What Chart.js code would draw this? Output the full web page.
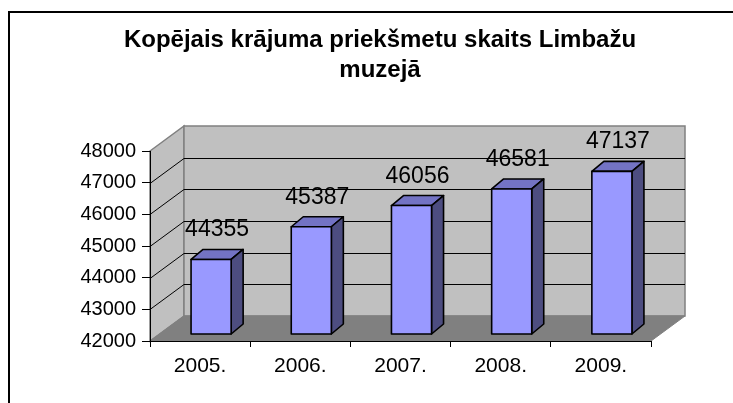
<!DOCTYPE html>
<html>
<head>
<meta charset="utf-8">
<title>Limbažu muzejs</title>
<script src="https://cdn.jsdelivr.net/npm/chart.js@4.4.1/dist/chart.umd.min.js"></script>
<style>
  body { margin: 0; background: #fff; }
  canvas { display: block; }
</style>
</head>
<body>
<canvas id="myChart" width="733" height="403"></canvas>
<script>
let years = ['2005.', '2006.', '2007.', '2008.', '2009.'];
let itemCounts = [44355, 45387, 46056, 46581, 47137];
let yTicks = [42000, 43000, 44000, 45000, 46000, 47000, 48000];
let titleLines = ['Kopējais krājuma priekšmetu skaits Limbažu', 'muzejā'];

let fontName = '"Liberation Sans", Arial, sans-serif';

// excel style 3d look: how far back the walls go, and where the bars sit
let wallDepth = { x: 34, y: -25 };
let barShift = { x: 11, y: -7 };
let barDepth = { x: 12, y: -10 };

function poly(ctx, pts, fill, stroke, lw) {
    ctx.beginPath();
    ctx.moveTo(pts[0][0], pts[0][1]);
    for (let i = 1; i < pts.length; i++) ctx.lineTo(pts[i][0], pts[i][1]);
    ctx.closePath();
    if (fill) { ctx.fillStyle = fill; ctx.fill(); }
    if (stroke) { ctx.strokeStyle = stroke; ctx.lineWidth = lw || 1; ctx.stroke(); }
}

let walls3d = {
    id: 'walls3d',
    beforeDraw(chart) {
        let ctx = chart.ctx;
        let xs = chart.scales.x;
        let ys = chart.scales.y;
        let left = xs.left, right = xs.right;
        let top = ys.getPixelForValue(yTicks[yTicks.length - 1]);
        let bottom = ys.getPixelForValue(yTicks[0]);
        let dx = wallDepth.x, dy = wallDepth.y;

        ctx.save();
        ctx.fillStyle = '#fff';
        ctx.fillRect(0, 0, chart.width, chart.height);

        // outer frame, only left and top edges are inside the picture
        ctx.strokeStyle = '#000';
        ctx.lineWidth = 2;
        ctx.strokeRect(9, 12, 780, 440);

        // side wall
        poly(ctx, [[left, top], [left + dx, top + dy], [left + dx, bottom + dy], [left, bottom]], '#c0c0c0', '#808080', 1.5);
        // back wall
        poly(ctx, [[left + dx, top + dy], [right + dx, top + dy], [right + dx, bottom + dy], [left + dx, bottom + dy]], '#c0c0c0', '#808080', 1.5);

        // grid lines
        ctx.strokeStyle = '#000';
        ctx.lineWidth = 1;
        yTicks.slice(1, -1).forEach(v => {
            let y = Math.round(ys.getPixelForValue(v)) + 0.5;
            ctx.beginPath();
            ctx.moveTo(left, y);
            ctx.lineTo(left + dx, y + dy);
            ctx.lineTo(right + dx, y + dy);
            ctx.stroke();
        });

        // floor
        poly(ctx, [[left, bottom], [right, bottom], [right + dx, bottom + dy], [left + dx, bottom + dy]], '#808080', '#808080', 1);
        ctx.restore();
    },
    afterDatasetsDraw(chart) {
        let ctx = chart.ctx;
        let ys = chart.scales.y;
        let meta = chart.getDatasetMeta(0);
        let floorY = ys.getPixelForValue(yTicks[0]);
        ctx.save();
        ctx.lineJoin = 'round';
        meta.data.forEach((bar, i) => {
            let x0 = bar.x - bar.width / 2 + barShift.x;
            let x1 = x0 + bar.width;
            let yt = bar.y + barShift.y;
            let yb = floorY + barShift.y;
            let dx = barDepth.x, dy = barDepth.y;

            poly(ctx, [[x0, yt], [x1, yt], [x1 + dx, yt + dy], [x0 + dx, yt + dy]], '#7373c4', '#000', 1.6);
            poly(ctx, [[x1, yt], [x1 + dx, yt + dy], [x1 + dx, yb + dy], [x1, yb]], '#4d4d80', '#000', 1.6);
            poly(ctx, [[x0, yt], [x1, yt], [x1, yb], [x0, yb]], '#9999ff', '#000', 1.6);

            ctx.fillStyle = '#000';
            ctx.font = '23px ' + fontName;
            ctx.textAlign = 'center';
            ctx.textBaseline = 'alphabetic';
            ctx.fillText(String(itemCounts[i]), (x0 + x1) / 2 + dx / 2, yt + dy - 13);
        });
        ctx.restore();
    }
};

new Chart('myChart', {
    type: 'bar',
    data: {
        labels: years,
        datasets: [{
            data: itemCounts,
            base: yTicks[0],
            backgroundColor: 'rgba(0,0,0,0)',
            borderWidth: 0,
            barPercentage: 0.4,
            categoryPercentage: 1
        }]
    },
    options: {
        responsive: false,
        devicePixelRatio: 1,
        animation: false,
        // left padding + empty right axis keep the title centred like the original
        layout: { padding: { left: 27, right: 0, top: 0, bottom: 0 } },
        plugins: {
            legend: { display: false },
            tooltip: { enabled: false },
            title: {
                display: true,
                text: titleLines,
                color: '#000',
                font: { family: fontName, size: 24, weight: 'bold', lineHeight: 1.25 },
                padding: { top: 25, bottom: 66 }
            }
        },
        scales: {
            x: {
                afterFit: axis => { axis.height = 62; },
                border: { display: true, color: '#000', width: 1 },
                grid: { drawOnChartArea: false, offset: true, tickLength: 6, color: '#000' },
                ticks: { color: '#000', padding: 7, font: { family: fontName, size: 21 } }
            },
            y: {
                min: yTicks[0],
                max: yTicks[yTicks.length - 1],
                afterBuildTicks: axis => { axis.ticks = yTicks.map(v => ({ value: v })); },
                afterFit: axis => { axis.width = 123; },
                border: { display: true, color: '#000', width: 1 },
                grid: { drawOnChartArea: false, tickLength: 8, color: '#000' },
                ticks: {
                    color: '#000',
                    padding: 6,
                    font: { family: fontName, size: 20 },
                    callback: v => String(v)
                }
            },
            spacer: {
                type: 'linear',
                position: 'right',
                afterFit: axis => { axis.width = 82; },
                border: { display: false },
                grid: { display: false },
                ticks: { display: false }
            }
        }
    },
    plugins: [walls3d]
});
</script>
</body>
</html>
